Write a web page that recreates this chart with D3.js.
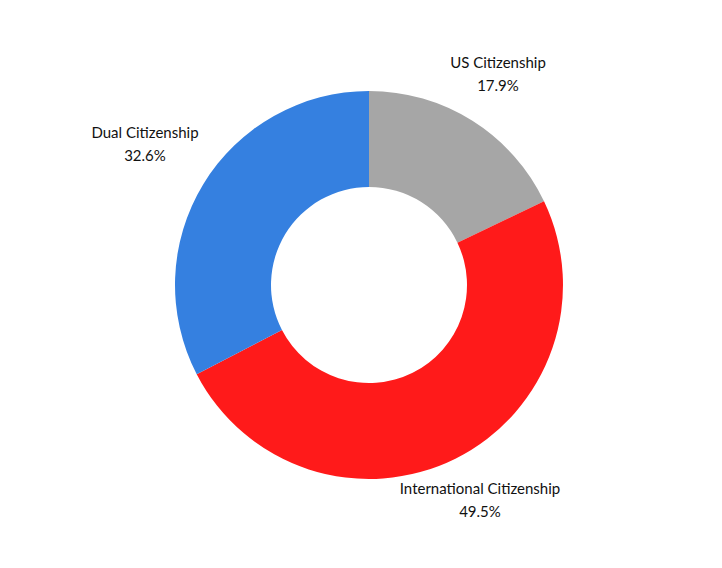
<!DOCTYPE html>
<html><head><meta charset="utf-8">
<script src="https://cdn.jsdelivr.net/npm/d3@7"></script>
<style>body{margin:0;background:#fff}text{font-family:Lato,sans-serif;font-size:15px;fill:#111}</style>
</head><body>
<svg id="c" width="722" height="568"></svg>
<script>
var labels = ["US Citizenship", "International Citizenship", "Dual Citizenship"];
var values = [17.9, 49.5, 32.6];
var colors = ["#a6a6a6", "#ff1a1a", "#3580e0"];
var labelPos = [[498, 68], [480, 494], [145, 138]];

var svg = d3.select("#c");
var g = svg.append("g").attr("transform", "translate(369,285)");
var pie = d3.pie().sort(null).value(function(d){ return d; });
var arc = d3.arc().innerRadius(98).outerRadius(194);

g.selectAll("path").data(pie(values)).enter().append("path")
	.attr("d", arc)
	.attr("fill", function(d, i){ return colors[i]; });

labels.forEach(function(l, i){
	var t = svg.append("text").attr("text-anchor", "middle")
		.attr("x", labelPos[i][0]).attr("y", labelPos[i][1]);
	t.append("tspan").attr("x", labelPos[i][0]).text(l);
	t.append("tspan").attr("x", labelPos[i][0]).attr("dy", 23).text(values[i].toFixed(1) + "%");
});
</script>
</body></html>
